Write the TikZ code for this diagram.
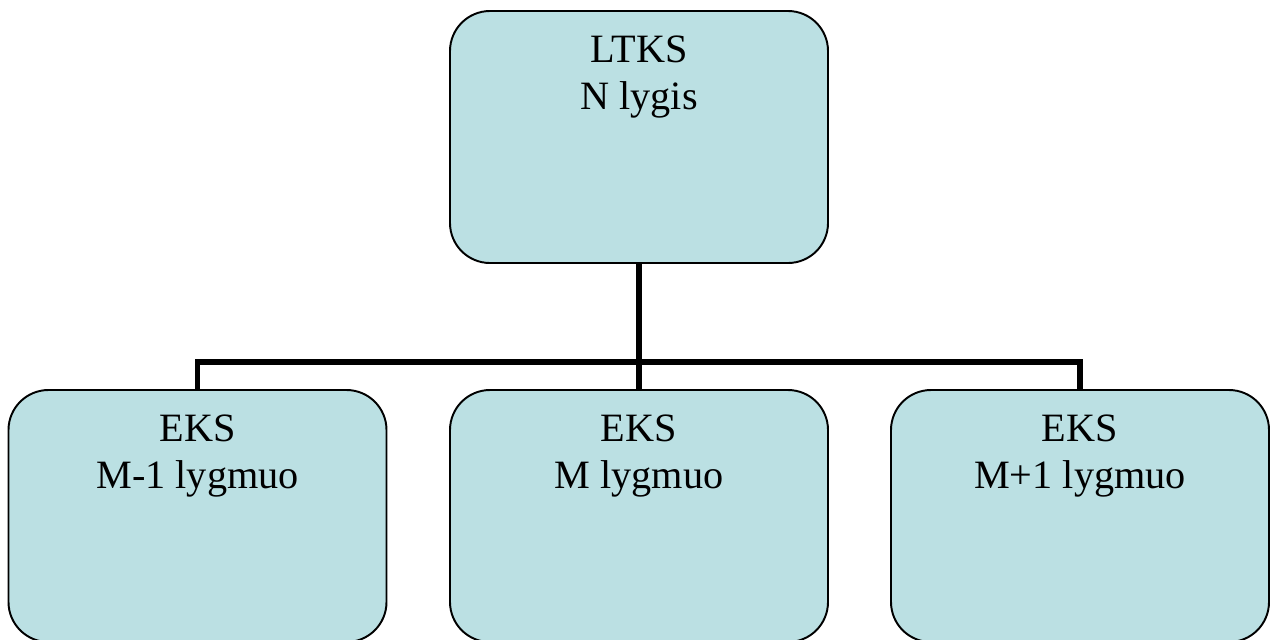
\documentclass[tikz,border=0pt]{standalone}
\usepackage{fontspec}
\setmainfont{Liberation Serif}
\usetikzlibrary{positioning}

\definecolor{boxfill}{HTML}{BBE0E3}

\begin{document}
\begin{tikzpicture}[
    level/.style={rectangle, rounded corners=0.8cm, draw, line width=1.1pt, fill=boxfill,
                  minimum width=7.56cm, minimum height=5.04cm, inner sep=0pt},
    caption/.style={align=center, inner sep=0pt, font=\fontsize{22.9}{26.8}\selectfont},
    link/.style={line width=3.4pt}
]
    \useasboundingbox (0,0) rectangle (25.4,-12.78);
    \node (ltks) [level] at (12.78,-2.74) {};
    \node (eksa) [level] at (3.95,-10.32) {};
    \node (eksb) [level] at (12.78,-10.32) {};
    \node (eksc) [level] at (21.6,-10.32) {};
    \node (ltkstext) [caption, below=0.51cm of ltks.north] {LTKS\\N lygis};
    \node (eksatext) [caption, below=0.51cm of eksa.north] {EKS\\M-1 lygmuo};
    \node (eksbtext) [caption, below=0.51cm of eksb.north] {EKS\\M lygmuo};
    \node (eksctext) [caption, below=0.51cm of eksc.north] {EKS\\M+1 lygmuo};
    \coordinate (bus) at (12.78,-7.24);
    \draw[link] (ltks.south) -- (bus);
    \draw[link] (eksa.north) |- (bus) -| (eksc.north);
    \draw[link] (bus) -- (eksb.north);
\end{tikzpicture}
\end{document}
